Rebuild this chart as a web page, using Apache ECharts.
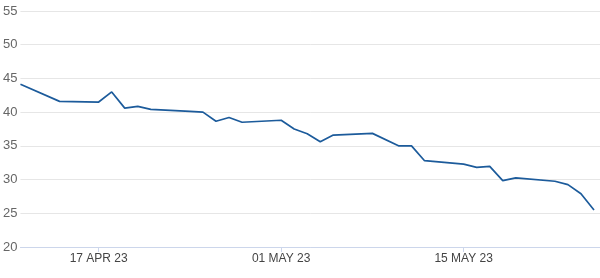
<!DOCTYPE html>
<html>
<head>
<meta charset="utf-8">
<script src="https://cdn.jsdelivr.net/npm/echarts@6/dist/echarts.min.js"></script>
<style>html,body{margin:0;padding:0;background:#fff}#c{width:600px;height:278px}</style>
</head>
<body>
<div id="c"></div>
<script>
var dates = ['2023-04-11','2023-04-14','2023-04-17','2023-04-18','2023-04-19','2023-04-20','2023-04-21','2023-04-24','2023-04-25','2023-04-26','2023-04-27','2023-04-28','2023-05-01','2023-05-02','2023-05-03','2023-05-04','2023-05-05','2023-05-08','2023-05-10','2023-05-11','2023-05-12','2023-05-15','2023-05-16','2023-05-17','2023-05-18','2023-05-19','2023-05-22','2023-05-23','2023-05-24','2023-05-25'];
var values = [44.15,41.6,41.5,43.0,40.6,40.85,40.4,40.1,40.0,38.65,39.2,38.5,38.8,37.5,36.8,35.6,36.6,36.85,35.0,35.0,32.8,32.3,31.8,31.95,29.85,30.25,29.75,29.25,27.9,25.5];
var tickDates = ['2023-04-17','2023-05-01','2023-05-15'];
var tickLabels = ['17 APR 23','01 MAY 23','15 MAY 23'];
var yTicks = [20,25,30,35,40,45,50,55];

var DAY = 86400000;
function t(s){ return new Date(s + 'T00:00:00Z').getTime(); }
var data = dates.map(function(d,i){ return [t(d), values[i]]; });
var tickVals = tickDates.map(t);
function labelFor(v){
  for (var i = 0; i < tickVals.length; i++) { if (Math.abs(tickVals[i] - v) < DAY/4) return tickLabels[i]; }
  return '';
}

var chart = echarts.init(document.getElementById('c'), null, {renderer:'canvas'});
chart.setOption({
  animation:false,
  grid:{left:18,right:0,top:11,bottom:31,containLabel:false},
  xAxis:{
    type:'value',
    scale:true,
    min:t('2023-04-11'),
    max:t('2023-05-25') + DAY*0.46,
    axisLine:{show:true,lineStyle:{color:'#ccd6eb',width:1}},
    axisTick:{show:true,customValues:tickVals,interval:0,length:5,lineStyle:{color:'#ccd6eb'}},
    axisLabel:{customValues:tickVals,interval:0,hideOverlap:false,formatter:function(v){return labelFor(v);},color:'#444',fontSize:12,fontFamily:'Liberation Sans, Arial, sans-serif',margin:6},
    splitLine:{show:false}
  },
  yAxis:{
    type:'value',
    min:yTicks[0],max:yTicks[yTicks.length-1],interval:5,
    axisLine:{show:false},axisTick:{show:false},
    axisLabel:{color:'#666',fontSize:13,fontFamily:'Liberation Sans, Arial, sans-serif',margin:3,align:'right',
      formatter:function(v){ return yTicks.indexOf(v)>=0 ? String(v) : ''; }},
    splitLine:{lineStyle:{color:'#e6e6e6',width:1}}
  },
  series:[{
    type:'line',
    data:data,
    showSymbol:false,
    symbol:'none',
    lineStyle:{color:'#1c5b9b',width:1.7},
    itemStyle:{color:'#1c5b9b'}
  }]
});
</script>
</body>
</html>
